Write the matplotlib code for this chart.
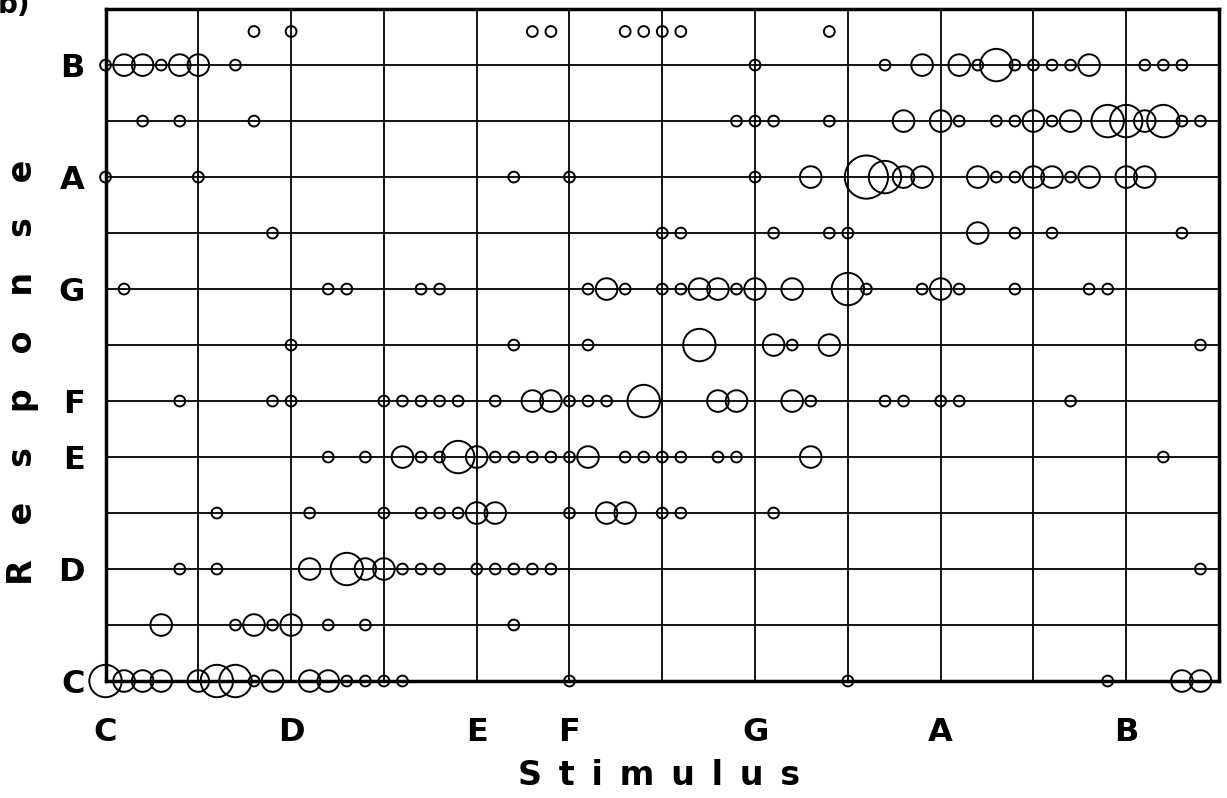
import matplotlib
matplotlib.use("Agg")
from matplotlib import pyplot as plt
import numpy as np

plt.rcParams['font.family'] = ['DejaVu Sans']
plt.rcParams['font.weight'] = 'bold'

# stimulus position (semitones above C, 20 cent steps) and number of answers
top_x = [1.6, 2.0, 4.6, 4.8, 5.6, 5.8, 6.0, 6.2, 7.8]
top_n = [1, 1, 1, 1, 1, 1, 1, 1, 1]

b_x = [0, 0.2, 0.4, 0.6, 0.8, 1.0, 1.4, 7.0, 8.4, 8.8, 9.2, 9.4, 9.6, 9.8, 10.0, 10.2, 10.4, 10.6, 11.2, 11.4, 11.6]
b_n = [1, 2, 2, 1, 2, 2, 1, 1, 1, 2, 2, 1, 3, 1, 1, 1, 1, 2, 1, 1, 1]

as_x = [0.4, 0.8, 1.6, 6.8, 7.0, 7.2, 7.8, 8.6, 9.0, 9.2, 9.6, 9.8, 10.0, 10.2, 10.4, 10.8, 11.0, 11.2, 11.4, 11.6, 11.8]
as_n = [1, 1, 1, 1, 1, 1, 1, 2, 2, 1, 1, 1, 2, 1, 2, 3, 3, 2, 3, 1, 1]

a_x = [0, 1.0, 4.4, 5.0, 7.0, 7.6, 8.2, 8.4, 8.6, 8.8, 9.4, 9.6, 9.8, 10.0, 10.2, 10.4, 10.6, 11.0, 11.2]
a_n = [1, 1, 1, 1, 1, 2, 4, 3, 2, 2, 2, 1, 1, 2, 2, 1, 2, 2, 2]

gs_x = [1.8, 6.0, 6.2, 7.2, 7.8, 8.0, 9.4, 9.8, 10.2, 11.6]
gs_n = [1, 1, 1, 1, 1, 1, 2, 1, 1, 1]

g_x = [0.2, 2.4, 2.6, 3.4, 3.6, 5.2, 5.4, 5.6, 6.0, 6.2, 6.4, 6.6, 6.8, 7.0, 7.4, 8.0, 8.2, 8.8, 9.0, 9.2, 9.8, 10.6, 10.8]
g_n = [1, 1, 1, 1, 1, 1, 2, 1, 1, 1, 2, 2, 1, 2, 2, 3, 1, 1, 2, 1, 1, 1, 1]

fs_x = [2.0, 4.4, 5.2, 6.4, 7.2, 7.4, 7.8, 11.8]
fs_n = [1, 1, 1, 3, 2, 1, 2, 1]

f_x = [0.8, 1.8, 2.0, 3.0, 3.2, 3.4, 3.6, 3.8, 4.2, 4.6, 4.8, 5.0, 5.2, 5.4, 5.8, 6.6, 6.8, 7.4, 7.6, 8.4, 8.6, 9.0, 9.2, 10.4]
f_n = [1, 1, 1, 1, 1, 1, 1, 1, 1, 2, 2, 1, 1, 1, 3, 2, 2, 2, 1, 1, 1, 1, 1, 1]

e_x = [2.4, 2.8, 3.2, 3.4, 3.6, 3.8, 4.0, 4.2, 4.4, 4.6, 4.8, 5.0, 5.2, 5.6, 5.8, 6.0, 6.2, 6.6, 6.8, 7.6, 11.4]
e_n = [1, 1, 2, 1, 1, 3, 2, 1, 1, 1, 1, 1, 2, 1, 1, 1, 1, 1, 1, 2, 1]

ds_x = [1.2, 2.2, 3.0, 3.4, 3.6, 3.8, 4.0, 4.2, 5.0, 5.4, 5.6, 6.0, 6.2, 7.2]
ds_n = [1, 1, 1, 1, 1, 1, 2, 2, 1, 2, 2, 1, 1, 1]

d_x = [0.8, 1.2, 2.2, 2.6, 2.8, 3.0, 3.2, 3.4, 3.6, 4.0, 4.2, 4.4, 4.6, 4.8, 11.8]
d_n = [1, 1, 2, 3, 2, 2, 1, 1, 1, 1, 1, 1, 1, 1, 1]

cs_x = [0.6, 1.4, 1.6, 1.8, 2.0, 2.4, 2.8, 4.4]
cs_n = [2, 1, 2, 1, 2, 1, 1, 1]

c_x = [0, 0.2, 0.4, 0.6, 1.0, 1.2, 1.4, 1.6, 1.8, 2.2, 2.4, 2.6, 2.8, 3.0, 3.2, 5.0, 8.0, 10.8, 11.6, 11.8]
c_n = [3, 2, 2, 2, 2, 3, 3, 1, 2, 2, 2, 1, 1, 1, 1, 1, 1, 1, 2, 2]

note_pos = [0, 2, 4, 5, 7, 9, 11]
note_names = ['C', 'D', 'E', 'F', 'G', 'A', 'B']

rows = [(11.6, top_x, top_n), (11, b_x, b_n), (10, as_x, as_n), (9, a_x, a_n),
        (8, gs_x, gs_n), (7, g_x, g_n), (6, fs_x, fs_n), (5, f_x, f_n),
        (4, e_x, e_n), (3, ds_x, ds_n), (2, d_x, d_n), (1, cs_x, cs_n),
        (0, c_x, c_n)]

fig = plt.figure(figsize=(12.27, 7.98), dpi=100)
ax = fig.add_axes([0.086, 0.1466, 0.9075, 0.842])

for k in range(1, 12):
    ax.axhline(k, color='k', lw=1.3, zorder=1)
    ax.axvline(k, color='k', lw=1.3, zorder=1)

for resp, xs, ns in rows:
    xs = np.array(xs)
    ns = np.array(ns)
    # radius about 5.4 px per answer
    size = (2 * 5.4 * ns * 0.72) ** 2
    ax.scatter(xs, np.full(len(xs), resp), s=size, facecolors='none',
               edgecolors='k', linewidths=1.4, zorder=3, clip_on=False)

ax.set_xlim(0, 12)
ax.set_ylim(0, 12)
ax.set_xticks(note_pos)
ax.set_xticklabels(note_names)
ax.set_yticks(note_pos)
ax.set_yticklabels(note_names)
ax.tick_params(length=0, labelsize=23)
ax.tick_params(axis='x', pad=26)
ax.tick_params(axis='y', pad=15)
for sp in ax.spines.values():
    sp.set_linewidth(2.5)

sp2 = '\u2002'
fig.text(0.537, 0.028, sp2.join('Stimulus'), ha='center', va='center', fontsize=24)
fig.text(0.018, 0.534, '   '.join('Response'), ha='center', va='center',
         rotation=90, fontsize=24)
fig.text(-0.002, 0.984, 'b)', ha='left', va='baseline', fontsize=20)

fig.savefig('out.png', dpi=100)
